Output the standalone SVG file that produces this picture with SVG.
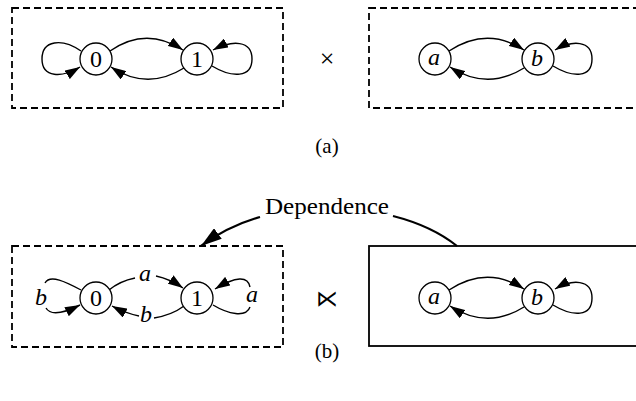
<svg xmlns="http://www.w3.org/2000/svg" width="636" height="401" viewBox="0 0 636 401">
<style>
.box{fill:none;stroke:#000;stroke-width:1.8}
.dash{stroke-dasharray:7,4}
.node circle{fill:#fff;stroke:#000;stroke-width:1.3}
text{font-family:"Liberation Serif","DejaVu Serif","Noto Serif",serif;fill:#000;text-anchor:middle}
.it{font-style:italic}
.e{fill:none;stroke:#000;stroke-width:1.4}
.ea{marker-end:url(#ah)}
.dep{fill:none;stroke:#000;stroke-width:2.2}
</style>
<defs>
<marker id="ah" markerUnits="userSpaceOnUse" markerWidth="16" markerHeight="10" refX="15" refY="5" orient="auto">
<path d="M0,0 L15,5 L0,10 z" fill="#000"/>
</marker>
<marker id="ahd" markerUnits="userSpaceOnUse" markerWidth="22" markerHeight="13" refX="21" refY="6.5" orient="auto">
<path d="M0,0 L21,6.5 L0,13 z" fill="#000"/>
</marker>
</defs>

<g id="frames">
<rect class="box dash" x="12" y="8" width="271" height="100"/>
<rect class="box dash" x="369" y="8" width="280" height="100"/>
<rect class="box dash" x="12" y="246" width="271" height="101"/>
<rect class="box" x="369" y="246" width="280" height="100"/>
</g>

<g id="connectors">
<path class="e ea" d="M110,51 Q146,26 183,50"/>
<path class="e ea" d="M184,68 Q147,91 111,67"/>
<path class="e ea" d="M81,51 C62,38 42,40 42,59 C42,78 62,78 80,67"/>
<path class="e ea" d="M212,66 C232,78 252,78 252,59 C252,40 232,40 213,50"/>
<path class="e ea" d="M449,51 Q487,26 524,50"/>
<path class="e ea" d="M524,68 Q487,91 450,67"/>
<path class="e ea" d="M553,66 C573,78 592,78 592,59 C592,40 572,40 555,50"/>
<path class="e" d="M109,290 Q120,281 135,278"/>
<path class="e ea" d="M156,276 Q170,279 183,288"/>
<path class="e" d="M184,306 Q172,315 154,318"/>
<path class="e ea" d="M139,316 Q125,313 112,306"/>
<path class="e" d="M81,290 C66,282 50,274 45,283"/>
<path class="e ea" d="M46,308 C50,315 62,314 80,305"/>
<path class="e ea" d="M250,287 C248,276 236,276 215,289"/>
<path class="e" d="M213,305 C228,314 246,318 250,307"/>
<path class="e ea" d="M449,290 Q487,265 524,289"/>
<path class="e ea" d="M524,307 Q487,330 450,306"/>
<path class="e ea" d="M553,305 C573,317 592,317 592,298 C592,279 572,279 555,289"/>
<path class="dep" d="M260,217 Q228,226 201,246" marker-end="url(#ahd)"/>
<path class="dep" d="M393,216 Q432,226 457,246"/>
</g>

<g id="n0a" class="node"><circle cx="96" cy="59" r="16"/><text x="96" y="67" font-size="24">0</text></g>
<g id="n1a" class="node"><circle cx="197" cy="59" r="16"/><text x="197" y="67" font-size="24">1</text></g>
<g id="naa" class="node"><circle cx="435" cy="59" r="16"/><text class="it" x="434" y="65" font-size="24">a</text></g>
<g id="nba" class="node"><circle cx="538" cy="59" r="16"/><text class="it" x="537" y="66" font-size="24">b</text></g>

<g id="n0b" class="node"><circle cx="96" cy="298" r="16"/><text x="96" y="306" font-size="24">0</text></g>
<g id="n1b" class="node"><circle cx="197" cy="298" r="16"/><text x="197" y="306" font-size="24">1</text></g>
<g id="nab" class="node"><circle cx="435" cy="298" r="16"/><text class="it" x="434" y="304" font-size="24">a</text></g>
<g id="nbb" class="node"><circle cx="538" cy="298" r="16"/><text class="it" x="537" y="305" font-size="24">b</text></g>

<g id="labels">
<text class="it" x="145" y="281" font-size="24">a</text>
<text class="it" x="146" y="322" font-size="24">b</text>
<text class="it" x="41" y="305" font-size="24">b</text>
<text class="it" x="252" y="302" font-size="24">a</text>
<text x="327" y="67" font-size="26">×</text>
<text x="327" y="306" font-size="22">⋉</text>
<text x="327" y="153" font-size="21">(a)</text>
<text x="327" y="358" font-size="21">(b)</text>
<text x="327" y="214" font-size="24" textLength="124" lengthAdjust="spacingAndGlyphs">Dependence</text>
</g>
</svg>
